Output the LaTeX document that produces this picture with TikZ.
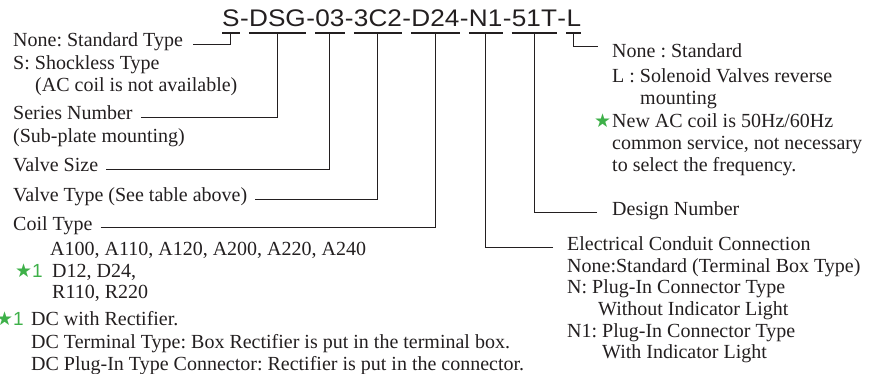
\documentclass[tikz,border=0pt]{standalone}
\usepackage{fontspec}
\setmainfont{Liberation Serif}
\newfontfamily\codefont[FakeStretch=1.09]{Liberation Sans}
\newfontfamily\numfont{Liberation Sans}
\newfontfamily\symfont{DejaVu Sans}
\usetikzlibrary{positioning}
\definecolor{inkgray}{RGB}{35,31,32}
\definecolor{stargreen}{RGB}{62,176,73}
\frenchspacing

\begin{document}
\begin{tikzpicture}[x=1pt,y=-1pt,
  codepart/.style={font=\codefont\fontsize{24}{24}\selectfont, text=inkgray, inner sep=0pt},
  lbl/.style={font=\fontsize{20}{22}\selectfont, text=inkgray, inner sep=0pt, anchor=base west},
  stargl/.style={font=\symfont\fontsize{19}{19}\selectfont, text=stargreen, inner sep=0pt, anchor=base west},
  uline/.style={draw=inkgray, line width=2.4pt},
  leader/.style={draw=inkgray, line width=1pt}]
  \useasboundingbox (0,0) rectangle (891,374);
  % model code, one underlined part each
  \node[codepart, anchor=base west] (pS) at (222,27) {S};
  \node[codepart, base right=0pt of pS] (h1) {-};
  \node[codepart, base right=0pt of h1] (pDSG) {DSG};
  \node[codepart, base right=0pt of pDSG] (h2) {-};
  \node[codepart, base right=0pt of h2] (p03) {03};
  \node[codepart, base right=0pt of p03] (h3) {-};
  \node[codepart, base right=0pt of h3] (p3C2) {3C2};
  \node[codepart, base right=0pt of p3C2] (h4) {-};
  \node[codepart, base right=0pt of h4] (pD24) {D24};
  \node[codepart, base right=0pt of pD24] (h5) {-};
  \node[codepart, base right=0pt of h5] (pN1) {N1};
  \node[codepart, base right=0pt of pN1] (h6) {-};
  \node[codepart, base right=0pt of h6] (p51T) {51T};
  \node[codepart, base right=0pt of p51T] (h7) {-};
  \node[codepart, base right=0pt of h7] (pL) {L};
  \foreach \n in {S, DSG, 03, 3C2, D24, N1, 51T, L} {
    \draw[uline] ([yshift=-6pt]p\n.base west) -- ([yshift=-6pt]p\n.base east);
    \coordinate (u\n) at ([yshift=-6pt]p\n.base);
  }
  % left column
  \node[lbl] (nStd) at (13,47) {None: Standard Type};
  \node[lbl] (nShock) at (13,70) {S: Shockless Type};
  \node[lbl] (nAC) at (35,92) {(AC coil is not available)};
  \node[lbl] (nSeries) at (13,120) {Series Number};
  \node[lbl] (nSub) at (13,143) {(Sub-plate mounting)};
  \node[lbl] (nSize) at (13,172) {Valve Size};
  \node[lbl] (nType) at (13,202) {Valve Type (See table above)};
  \node[lbl] (nCoil) at (13,230) {Coil Type};
  \node[lbl] (nA) at (50,255) {A100, A110, A120, A200, A220, A240};
  \node[stargl] (sD) at (15,277) {★\numfont\fontsize{19}{19}\selectfont 1};
  \node[lbl] (nD) at (52,277) {D12, D24,};
  \node[lbl] (nR) at (52,298) {R110, R220};
  \node[stargl] (sDC) at (-4,325) {★\numfont\fontsize{19}{19}\selectfont 1};
  \node[lbl] (nDC) at (31,325) {DC with Rectifier.};
  \node[lbl] (nTerm) at (31,348) {DC Terminal Type: Box Rectifier is put in the terminal box.};
  \node[lbl] (nPlug) at (31,370) {DC Plug-In Type Connector: Rectifier is put in the connector.};
  % right column
  \node[lbl] (rStd) at (612,58) {None : Standard};
  \node[lbl] (rL) at (612,83) {L : Solenoid Valves reverse};
  \node[lbl] (rMount) at (640,105) {mounting};
  \node[stargl] (sNew) at (594,128) {★};
  \node[lbl] (rNew) at (612,128) {New AC coil is 50Hz/60Hz};
  \node[lbl] (rCommon) at (612,150) {common service, not necessary};
  \node[lbl] (rSelect) at (612,172) {to select the frequency.};
  \node[lbl] (rDesign) at (612,215) {Design Number};
  \node[lbl] (rElec) at (567,250) {Electrical Conduit Connection};
  \node[lbl] (rNone) at (567,272) {None:Standard (Terminal Box Type)};
  \node[lbl] (rN) at (567,293) {N: Plug-In Connector Type};
  \node[lbl] (rWo) at (598,315) {Without Indicator Light};
  \node[lbl] (rN1) at (567,337) {N1: Plug-In Connector Type};
  \node[lbl] (rWi) at (602,358) {With Indicator Light};
  % leaders
  \draw[leader,shorten <=10pt] (nStd.mid east) -| (uS);
  \draw[leader,shorten <=8pt] (nSeries.mid east) -| (uDSG);
  \draw[leader,shorten <=8pt] (nSize.mid east) -| (u03);
  \draw[leader,shorten <=8pt] (nType.mid east) -| (u3C2);
  \draw[leader,shorten <=8pt] (nCoil.mid east) -| (uD24);
  \draw[leader,shorten <=15pt] (rDesign.mid west) -| (u51T);
  \draw[leader,shorten <=14pt] (rElec.mid west) -| (uN1);
  \coordinate (Lend) at (598,47);
  \draw[leader] (uL) |- (Lend);
\end{tikzpicture}
\end{document}
